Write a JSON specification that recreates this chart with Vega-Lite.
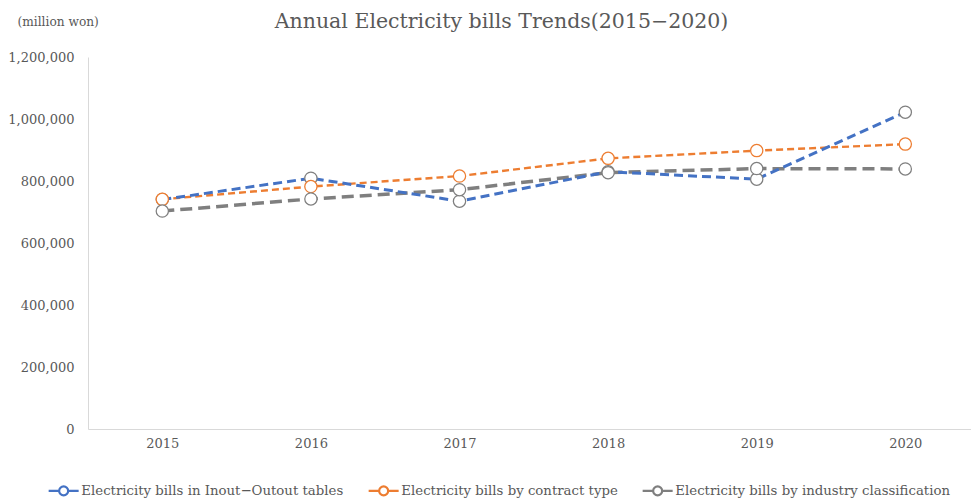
{
  "$schema": "https://vega.github.io/schema/vega-lite/v6.json",
  "autosize": {"type": "none"},
  "padding": {"left": 88, "top": 57, "right": 0, "bottom": 74},
  "width": 883,
  "height": 372,
  "background": "white",
  "title": {
    "text": "Annual Electricity bills Trends(2015−2020)",
    "font": "DejaVu Serif",
    "fontSize": 20.5,
    "fontWeight": "normal",
    "color": "#595959",
    "anchor": "middle",
    "dx": -28,
    "offset": -17
  },
  "config": {
    "view": {"stroke": null},
    "font": "DejaVu Serif"
  },
  "data": {
    "values": [
      {"year": 2015, "series": "Electricity bills in Inout−Outout tables", "value": 740000},
      {"year": 2016, "series": "Electricity bills in Inout−Outout tables", "value": 809000},
      {"year": 2017, "series": "Electricity bills in Inout−Outout tables", "value": 735000},
      {"year": 2018, "series": "Electricity bills in Inout−Outout tables", "value": 830000},
      {"year": 2019, "series": "Electricity bills in Inout−Outout tables", "value": 806000},
      {"year": 2020, "series": "Electricity bills in Inout−Outout tables", "value": 1022000},
      {"year": 2015, "series": "Electricity bills by contract type", "value": 741000},
      {"year": 2016, "series": "Electricity bills by contract type", "value": 782000},
      {"year": 2017, "series": "Electricity bills by contract type", "value": 816000},
      {"year": 2018, "series": "Electricity bills by contract type", "value": 873000},
      {"year": 2019, "series": "Electricity bills by contract type", "value": 898000},
      {"year": 2020, "series": "Electricity bills by contract type", "value": 919000},
      {"year": 2015, "series": "Electricity bills by industry classification", "value": 703000},
      {"year": 2016, "series": "Electricity bills by industry classification", "value": 742000},
      {"year": 2017, "series": "Electricity bills by industry classification", "value": 772000},
      {"year": 2018, "series": "Electricity bills by industry classification", "value": 827000},
      {"year": 2019, "series": "Electricity bills by industry classification", "value": 840000},
      {"year": 2020, "series": "Electricity bills by industry classification", "value": 839000}
    ]
  },
  "encoding": {
    "x": {
      "field": "year",
      "type": "quantitative",
      "scale": {"domain": [2014.5, 2020.442], "nice": false, "zero": false},
      "axis": {
        "values": [2015, 2016, 2017, 2018, 2019, 2020],
        "format": "d",
        "title": null,
        "grid": false,
        "ticks": false,
        "domainColor": "#d9d9d9",
        "domainWidth": 1,
        "labelFont": "DejaVu Serif",
        "labelFontSize": 13,
        "labelColor": "#595959",
        "labelPadding": 8
      }
    },
    "y": {
      "field": "value",
      "type": "quantitative",
      "scale": {"domain": [0, 1200000], "nice": false},
      "axis": {
        "values": [0, 200000, 400000, 600000, 800000, 1000000, 1200000],
        "format": ",d",
        "grid": false,
        "ticks": false,
        "domainColor": "#d9d9d9",
        "domainWidth": 1,
        "labelFont": "DejaVu Serif",
        "labelFontSize": 13,
        "labelColor": "#595959",
        "labelPadding": 14,
        "title": "(million won)",
        "titleFont": "DejaVu Serif",
        "titleFontSize": 12.2,
        "titleFontWeight": "normal",
        "titleColor": "#595959",
        "titleAngle": 0,
        "titleAlign": "left",
        "titleBaseline": "middle",
        "titleX": -71,
        "titleY": -36
      }
    },
    "color": {
      "field": "series",
      "type": "nominal",
      "scale": {
        "domain": ["Electricity bills in Inout−Outout tables", "Electricity bills by contract type", "Electricity bills by industry classification"],
        "range": ["#4472C4", "#ED7D31", "#7F7F7F"]
      },
      "legend": {
        "title": null,
        "orient": "none",
        "direction": "horizontal",
        "columns": 3,
        "legendX": -41,
        "legendY": 427,
        "symbolType": "M-3,0H-1.1M1.1,0H3M-0.9,0A0.9,0.9 0 1,0 0.9,0A0.9,0.9 0 1,0 -0.9,0",
        "symbolSize": 100,
        "symbolStrokeWidth": 2.2,
        "symbolFillColor": "white",
        "symbolOffset": 10,
        "labelOffset": 11,
        "columnPadding": 20,
        "labelFont": "DejaVu Serif",
        "labelFontSize": 13.3,
        "labelColor": "#595959",
        "labelLimit": 400
      }
    }
  },
  "layer": [
    {
      "transform": [{"filter": "datum.series === 'Electricity bills by industry classification'"}],
      "mark": {"type": "line", "strokeDash": [12, 6], "strokeWidth": 3.5}
    },
    {
      "transform": [{"filter": "datum.series === 'Electricity bills by contract type'"}],
      "mark": {"type": "line", "strokeDash": [7, 4], "strokeWidth": 2.4}
    },
    {
      "transform": [{"filter": "datum.series === 'Electricity bills in Inout−Outout tables'"}],
      "mark": {"type": "line", "strokeDash": [9, 5], "strokeWidth": 3}
    },
    {
      "mark": {"type": "point", "shape": "circle", "filled": false, "fill": "white", "fillOpacity": 1, "strokeWidth": 1.25, "size": 150, "opacity": 1},
      "encoding": {
        "color": null,
        "stroke": {
          "field": "series",
          "type": "nominal",
          "scale": {
            "domain": ["Electricity bills in Inout−Outout tables", "Electricity bills by contract type", "Electricity bills by industry classification"],
            "range": ["#7F7F7F", "#ED7D31", "#7F7F7F"]
          },
          "legend": null
        }
      }
    }
  ]
}
